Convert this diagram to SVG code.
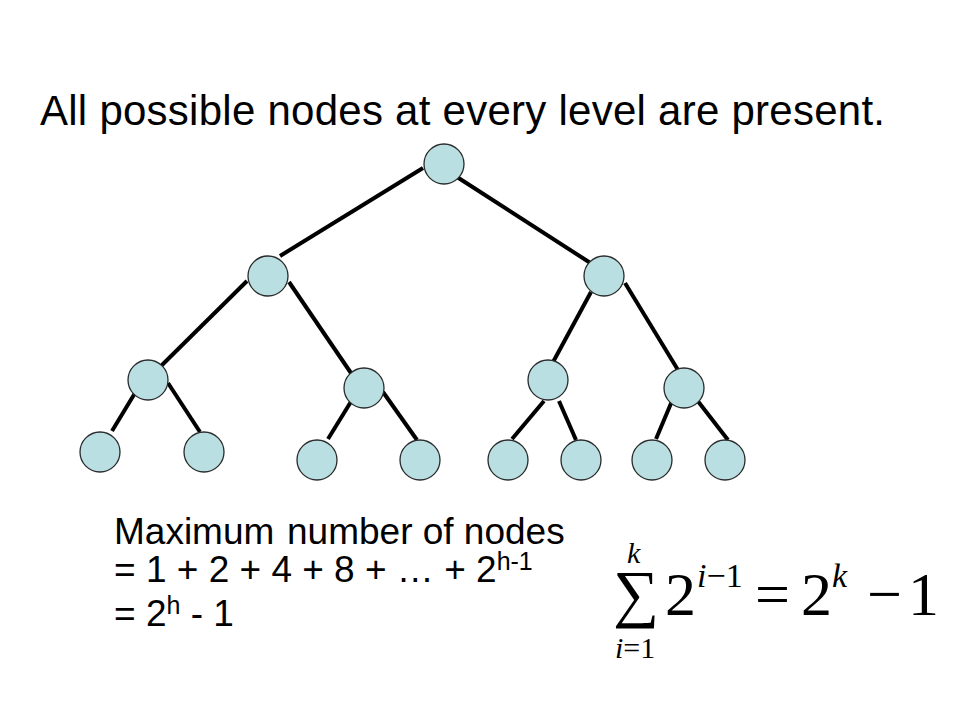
<svg xmlns="http://www.w3.org/2000/svg" width="960" height="720" viewBox="0 0 960 720">
<style>
.edge{stroke:#000;stroke-width:4;stroke-linecap:butt;fill:none}
.node{fill:#BADFE3;stroke:#2a2a2a;stroke-width:1.3}
.t{font-family:"Liberation Sans",Arial,sans-serif;fill:#000}
.m{font-family:"Liberation Serif","Times New Roman",serif;fill:#000}
.it{font-style:italic}
</style>
<rect width="960" height="720" fill="#fff"/>
<text id="title" class="t" x="40" y="125" font-size="42" textLength="845" lengthAdjust="spacing">All possible nodes at every level are present.</text>
<g id="connectors">
<line class="edge" x1="423" y1="168" x2="280" y2="256"/>
<line class="edge" x1="457" y1="177" x2="592" y2="264"/>
<line class="edge" x1="247" y1="281" x2="160" y2="367"/>
<line class="edge" x1="289" y1="282" x2="353" y2="376"/>
<line class="edge" x1="591" y1="292" x2="552" y2="364"/>
<line class="edge" x1="625" y1="283" x2="678" y2="370"/>
<line class="edge" x1="135" y1="393" x2="112" y2="431"/>
<line class="edge" x1="168" y1="383" x2="200" y2="432"/>
<line class="edge" x1="352" y1="400" x2="328" y2="439"/>
<line class="edge" x1="383" y1="392" x2="417" y2="440"/>
<line class="edge" x1="544" y1="401" x2="512" y2="439"/>
<line class="edge" x1="559" y1="401" x2="576" y2="440"/>
<line class="edge" x1="672" y1="401" x2="656" y2="439"/>
<line class="edge" x1="697" y1="400" x2="728" y2="440"/>
</g>
<g id="n1"><circle class="node" cx="444" cy="164" r="20"/></g>
<g id="n2"><circle class="node" cx="268" cy="276" r="20"/></g>
<g id="n3"><circle class="node" cx="604" cy="276" r="20"/></g>
<g id="n4"><circle class="node" cx="148" cy="380" r="20"/></g>
<g id="n5"><circle class="node" cx="364" cy="388" r="20"/></g>
<g id="n6"><circle class="node" cx="548" cy="380" r="20"/></g>
<g id="n7"><circle class="node" cx="684" cy="388" r="20"/></g>
<g id="n8"><circle class="node" cx="100" cy="452" r="20"/></g>
<g id="n9"><circle class="node" cx="204" cy="452" r="20"/></g>
<g id="n10"><circle class="node" cx="317" cy="460" r="20"/></g>
<g id="n11"><circle class="node" cx="420" cy="460" r="20"/></g>
<g id="n12"><circle class="node" cx="508" cy="460" r="20"/></g>
<g id="n13"><circle class="node" cx="581" cy="460" r="20"/></g>
<g id="n14"><circle class="node" cx="652" cy="460" r="20"/></g>
<g id="n15"><circle class="node" cx="725" cy="460" r="20"/></g>
<g id="caption" class="t" font-size="37">
<text x="114" y="544">Maximum <tspan x="287">number of nodes</tspan></text>
<text x="114" y="582">= 1 + 2 + 4 + 8 + … + 2<tspan font-size="25" dy="-12">h-1</tspan></text>
<text x="114" y="626">= 2<tspan font-size="25" dy="-12">h</tspan><tspan dy="12"> - 1</tspan></text>
</g>
<g id="formula" class="m">
<text x="613" y="615" font-size="64" textLength="46" lengthAdjust="spacingAndGlyphs">∑</text>
<text class="it" x="627" y="563" font-size="30">k</text>
<text x="615" y="658" font-size="30"><tspan class="it">i</tspan>=1</text>
<text x="665" y="615" font-size="62">2</text>
<text x="697" y="587" font-size="34"><tspan class="it">i</tspan>−1</text>
<text x="755" y="615" font-size="62">=</text>
<text x="801" y="615" font-size="62">2</text>
<text class="it" x="832" y="587" font-size="34">k</text>
<text x="867" y="615" font-size="62">−</text>
<text x="908" y="615" font-size="62">1</text>
</g>
</svg>
